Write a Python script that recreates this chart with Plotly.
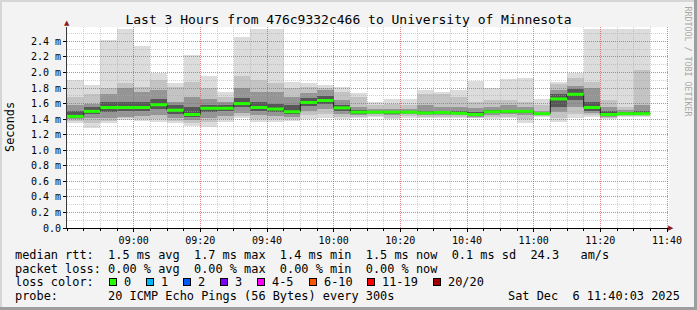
import plotly.graph_objects as go
import pandas as pd

# ---------------- data ----------------
DAY = "2025-12-06"
slot_start = ["08:40", "08:45", "08:50", "08:55", "09:00", "09:05", "09:10", "09:15",
              "09:20", "09:25", "09:30", "09:35", "09:40", "09:45", "09:50", "09:55",
              "10:00", "10:05", "10:10", "10:15", "10:20", "10:25", "10:30", "10:35",
              "10:40", "10:45", "10:50", "10:55", "11:00", "11:05", "11:10", "11:15",
              "11:20", "11:25", "11:30"]

# round-trip times in milliseconds (percentiles of the 20 pings per 5 min step)
rtt_min = [1.35, 1.29, 1.345, 1.39, 1.375, 1.365, 1.345, 1.315, 1.305, 1.365, 1.41, 1.365,
           1.365, 1.375, 1.40, 1.41, 1.40, 1.41, 1.43, 1.40, 1.42, 1.41, 1.41, 1.42,
           1.41, 1.40, 1.41, 1.345, 1.43, 1.365, 1.41, 1.43, 1.40, 1.43, 1.43]
rtt_p10 = [1.38, 1.35, 1.38, 1.41, 1.40, 1.40, 1.38, 1.35, 1.36, 1.40, 1.44, 1.40,
           1.40, 1.40, 1.45, 1.47, 1.43, 1.43, 1.44, 1.42, 1.44, 1.43, 1.43, 1.43,
           1.42, 1.43, 1.43, 1.40, 1.44, 1.42, 1.47, 1.45, 1.42, 1.44, 1.44]
rtt_p25 = [1.40, 1.41, 1.41, 1.43, 1.44, 1.45, 1.42, 1.39, 1.42, 1.44, 1.48, 1.45,
           1.44, 1.43, 1.50, 1.53, 1.46, 1.45, 1.46, 1.45, 1.46, 1.45, 1.45, 1.45,
           1.43, 1.45, 1.46, 1.45, 1.45, 1.49, 1.55, 1.48, 1.43, 1.45, 1.45]
rtt_p40 = [1.42, 1.46, 1.49, 1.50, 1.50, 1.53, 1.47, 1.43, 1.49, 1.50, 1.55, 1.50,
           1.49, 1.46, 1.57, 1.60, 1.51, 1.47, 1.475, 1.47, 1.475, 1.465, 1.47, 1.465,
           1.445, 1.475, 1.48, 1.48, 1.46, 1.56, 1.65, 1.51, 1.445, 1.46, 1.46]
rtt_med = [1.435, 1.50, 1.55, 1.55, 1.55, 1.585, 1.515, 1.46, 1.54, 1.54, 1.60, 1.55,
           1.53, 1.495, 1.615, 1.64, 1.545, 1.49, 1.49, 1.49, 1.49, 1.48, 1.485, 1.475,
           1.46, 1.495, 1.50, 1.50, 1.47, 1.66, 1.72, 1.55, 1.46, 1.47, 1.47]
rtt_p60 = [1.50, 1.56, 1.625, 1.625, 1.625, 1.665, 1.58, 1.56, 1.58, 1.58, 1.675, 1.625,
           1.60, 1.58, 1.675, 1.70, 1.58, 1.52, 1.51, 1.51, 1.51, 1.50, 1.50, 1.50,
           1.49, 1.52, 1.52, 1.52, 1.48, 1.72, 1.79, 1.625, 1.50, 1.49, 1.50]
rtt_p75 = [1.58, 1.60, 1.72, 1.80, 1.75, 1.775, 1.625, 1.69, 1.665, 1.625, 1.80, 1.75,
           1.75, 1.69, 1.73, 1.775, 1.65, 1.56, 1.53, 1.535, 1.53, 1.58, 1.56, 1.56,
           1.54, 1.55, 1.58, 1.56, 1.50, 1.775, 1.82, 1.80, 1.56, 1.52, 1.58]
rtt_p90 = [1.68, 1.72, 1.80, 1.86, 1.815, 1.90, 1.815, 1.88, 1.80, 1.69, 1.96, 1.90,
           1.86, 1.80, 1.815, 1.80, 1.75, 1.69, 1.58, 1.60, 1.58, 1.72, 1.72, 1.69,
           1.625, 1.65, 1.65, 1.625, 1.58, 1.85, 1.925, 1.88, 1.65, 1.56, 2.03]
rtt_max = [1.90, 1.845, 2.42, 2.56, 2.345, 1.99, 1.87, 2.23, 1.96, 1.745, 2.46, 2.56,
           2.56, 1.875, 1.86, 1.835, 1.815, 1.73, 1.62, 1.665, 1.66, 1.775, 1.755, 1.775,
           1.885, 1.805, 1.92, 1.93, 1.66, 1.875, 1.99, 2.56, 2.56, 2.56, 2.56]

x_tick_text = ["09:00", "09:20", "09:40", "10:00", "10:20", "10:40", "11:00", "11:20", "11:40"]
y_tick_vals = [0.0, 0.2, 0.4, 0.6, 0.8, 1.0, 1.2, 1.4, 1.6, 1.8, 2.0, 2.2, 2.4]
y_tick_text = ["0.0", "0.2 m", "0.4 m", "0.6 m", "0.8 m", "1.0 m", "1.2 m",
               "1.4 m", "1.6 m", "1.8 m", "2.0 m", "2.2 m", "2.4 m"]

title_text = "Last 3 Hours from 476c9332c466 to University of Minnesota"
legend_rows = [
    "median rtt:  1.5 ms avg  1.7 ms max  1.4 ms min  1.5 ms now  0.1 ms sd  24.3   am/s",
    "packet loss: 0.00 % avg  0.00 % max  0.00 % min  0.00 % now",
    "loss color:",
    "probe:       20 ICMP Echo Pings (56 Bytes) every 300s",
]
stamp_text = "Sat Dec  6 11:40:03 2025"
loss_labels = ["0", "1", "2", "3", "4-5", "6-10", "11-19", "20/20"]
loss_colors = ["#26ff00", "#00b8ff", "#0059ff", "#7e00ff", "#ff00ff", "#ff5500", "#ff0000", "#a10000"]

# ---------------- geometry helpers ----------------
W, H = 697, 310
PL, PR, PT, PB = 67, 669, 27, 228  # plot area in pixels


def PX(x):
    return (x - PL) / (PR - PL)


def PY(y):
    return (PB - y) / (PB - PT)


MONO = "DejaVu Sans Mono"
STEP_MS = 300000
starts = pd.to_datetime([f"{DAY} {s}" for s in slot_start])
ends = starts + pd.Timedelta(milliseconds=STEP_MS)
x_tick_vals = [f"{DAY} {t}" for t in x_tick_text]
x_range = [f"{DAY} 08:40:00", f"{DAY} 11:40:36"]
y_range = [0, 2.585]

fig = go.Figure()

# smoke bands (subplot 1, below grid)
bands = [
    (rtt_min, rtt_max, "#dcdcdc"),
    (rtt_p10, rtt_p90, "#c3c3c3"),
    (rtt_p25, rtt_p75, "#959595"),
    (rtt_p40, rtt_p60, "#575757"),
]
for lo, hi, col in bands:
    fig.add_trace(go.Bar(
        x=starts, base=lo, y=[h - l for l, h in zip(lo, hi)],
        width=STEP_MS, offset=0,
        marker=dict(color=col, line=dict(width=0)),
        xaxis="x", yaxis="y", hoverinfo="skip",
    ))

# median step line (subplot 2, above grid)
fig.add_trace(go.Scatter(
    x=list(starts) + [ends[-1]], y=rtt_med + [rtt_med[-1]],
    mode="lines", line=dict(shape="hv", color="#202020", width=1),
    xaxis="x2", yaxis="y2", hoverinfo="skip",
))
gx, gy = [], []
for s, e, m in zip(starts, ends, rtt_med):
    gx += [s, e, None]
    gy += [m, m, None]
fig.add_trace(go.Scatter(
    x=gx, y=gy, mode="lines", line=dict(color=loss_colors[0], width=3),
    xaxis="x2", yaxis="y2", hoverinfo="skip",
))

RED = "rgba(255,0,0,0.38)"
GREY = "rgba(170,170,170,0.55)"

fig.update_layout(
    width=W, height=H,
    margin=dict(l=PL, r=W - PR, t=PT, b=H - PB),
    paper_bgcolor="#f3f3f3", plot_bgcolor="rgba(0,0,0,0)",
    barmode="overlay", bargap=0, showlegend=False,
    font=dict(family=MONO, size=10, color="#000000"),
    title=dict(text=title_text, x=0.5, xanchor="center", xref="container",
               y=1 - 19 / H, yanchor="middle", yref="container",
               font=dict(family=MONO, size=13, color="#000000")),
    xaxis=dict(domain=[0, 1], range=x_range, type="date", visible=False, anchor="y"),
    yaxis=dict(domain=[0, 1], range=y_range, visible=False, anchor="x"),
    xaxis2=dict(domain=[0, 1], range=x_range, type="date", anchor="y2",
                showgrid=True, gridcolor=RED, griddash="1px,1px", gridwidth=1,
                tickmode="array", tickvals=x_tick_vals, ticktext=x_tick_text,
                showline=True, linecolor="#000000", linewidth=1,
                ticks="outside", ticklen=3, tickcolor="#000000",
                tickfont=dict(family=MONO, size=10, color="#000000"),
                minor=dict(dtick=STEP_MS, tick0=f"{DAY} 08:40", showgrid=True,
                           gridcolor=GREY, griddash="1px,1px", ticks="outside",
                           ticklen=2, tickcolor="#000000"),
                zeroline=False),
    yaxis2=dict(domain=[0, 1], range=y_range, anchor="x2",
                tickmode="array", tickvals=y_tick_vals, ticktext=y_tick_text,
                showgrid=True, gridcolor=RED, griddash="1px,1px", gridwidth=1,
                minor=dict(dtick=0.1, tick0=0, showgrid=True, gridcolor=GREY,
                           griddash="1px,1px"),
                showline=True, linecolor="#3a3a3a", linewidth=1,
                ticks="outside", ticklen=3, tickcolor="#000000",
                tickfont=dict(family=MONO, size=10, color="#000000"),
                zeroline=False),
)

shapes = [
    # white plotting canvas
    dict(type="rect", xref="paper", yref="paper", x0=0, x1=1, y0=0, y1=1,
         fillcolor="#ffffff", line=dict(width=0), layer="below"),
    # frame shading
    dict(type="rect", xref="paper", yref="paper", x0=PX(0), x1=PX(W), y0=PY(0), y1=PY(2),
         fillcolor="#d6d6d6", line=dict(width=0), layer="below"),
    dict(type="rect", xref="paper", yref="paper", x0=PX(0), x1=PX(2), y0=PY(H), y1=PY(0),
         fillcolor="#d6d6d6", line=dict(width=0), layer="below"),
    dict(type="rect", xref="paper", yref="paper", x0=PX(0), x1=PX(W), y0=PY(H), y1=PY(H - 3),
         fillcolor="#9e9e9e", line=dict(width=0), layer="below"),
    dict(type="rect", xref="paper", yref="paper", x0=PX(W - 3), x1=PX(W), y0=PY(H), y1=PY(0),
         fillcolor="#9e9e9e", line=dict(width=0), layer="below"),
]
fig.update_layout(shapes=shapes)

NB = "\u00a0"
ann = []
# axis arrows
ann.append(dict(text="\u25b2", x=PX(PL), y=PY(23), xref="paper", yref="paper",
                xanchor="center", yanchor="middle", showarrow=False,
                font=dict(size=7, color="#8b1a1a", family="DejaVu Sans")))
ann.append(dict(text="\u25b6", x=PX(671), y=PY(PB), xref="paper", yref="paper",
                xanchor="center", yanchor="middle", showarrow=False,
                font=dict(size=7, color="#8b1a1a", family="DejaVu Sans")))
# vertical labels
ann.append(dict(text="Seconds", x=PX(10), y=PY(127), xref="paper", yref="paper",
                textangle=-90, xanchor="center", yanchor="middle", showarrow=False,
                font=dict(family=MONO, size=11.9, color="#000000")))
ann.append(dict(text="RRDTOOL / TOBI OETIKER", x=PX(687.5), y=PY(5), xref="paper", yref="paper",
                textangle=90, xanchor="center", yanchor="top", showarrow=False,
                font=dict(family=MONO, size=8.3, color="#a8a8a8")))
# legend rows
row_y = [255, 268.5, 282.3, 295.8]
for txt, yy in zip(legend_rows, row_y):
    ann.append(dict(text=txt.replace(" ", NB), x=PX(14), y=PY(yy), xref="paper", yref="paper",
                    xanchor="left", yanchor="middle", showarrow=False, borderpad=0,
                    font=dict(family=MONO, size=11.9, color="#000000")))
ann.append(dict(text=stamp_text.replace(" ", NB), x=PX(681), y=PY(row_y[3]), xref="paper",
                yref="paper", xanchor="right", yanchor="middle", showarrow=False, borderpad=0,
                font=dict(family=MONO, size=11.9, color="#000000")))
# loss colour boxes
CW = 7.17
bx = 108.5
for lab, col in zip(loss_labels, loss_colors):
    ann.append(dict(text=NB, x=PX(bx), y=PY(row_y[2]), xref="paper", yref="paper",
                    xanchor="left", yanchor="middle", showarrow=False,
                    width=6, height=6, borderpad=0, borderwidth=1,
                    bordercolor="#000000", bgcolor=col, font=dict(size=4)))
    lx = bx + 14
    ann.append(dict(text=lab, x=PX(lx), y=PY(row_y[2]), xref="paper", yref="paper",
                    xanchor="left", yanchor="middle", showarrow=False, borderpad=0,
                    font=dict(family=MONO, size=11.9, color="#000000")))
    bx = lx + 1 + len(lab) * CW + 15

fig.update_layout(annotations=ann)

fig.write_html("out.html")
